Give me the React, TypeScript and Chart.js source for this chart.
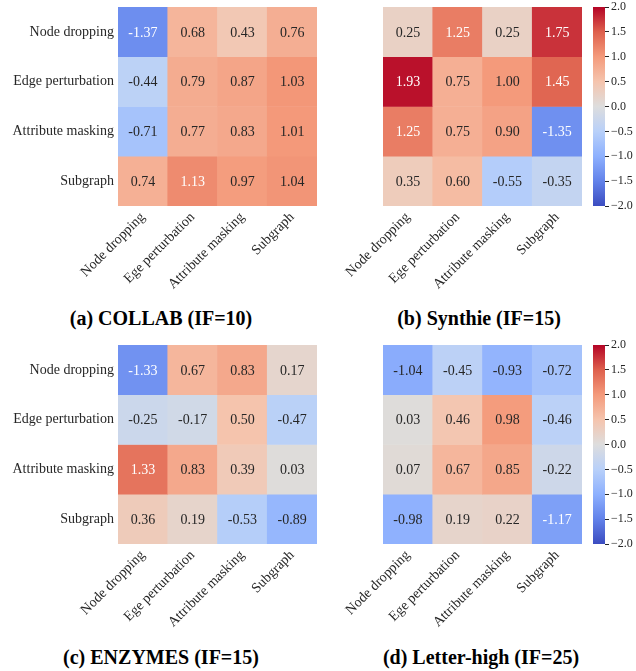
import React, { useEffect, useRef } from "react";
import { Chart, registerables } from "chart.js";

Chart.register(...registerables);

// ---------- data ----------
const ROW_LABELS = ["Node dropping", "Edge perturbation", "Attribute masking", "Subgraph"];
const COL_LABELS = ["Node dropping", "Ege perturbation", "Attribute masking", "Subgraph"];

const COLLAB = [
  [-1.37, 0.68, 0.43, 0.76],
  [-0.44, 0.79, 0.87, 1.03],
  [-0.71, 0.77, 0.83, 1.01],
  [0.74, 1.13, 0.97, 1.04],
];
const SYNTHIE = [
  [0.25, 1.25, 0.25, 1.75],
  [1.93, 0.75, 1.0, 1.45],
  [1.25, 0.75, 0.9, -1.35],
  [0.35, 0.6, -0.55, -0.35],
];
const ENZYMES = [
  [-1.33, 0.67, 0.83, 0.17],
  [-0.25, -0.17, 0.5, -0.47],
  [1.33, 0.83, 0.39, 0.03],
  [0.36, 0.19, -0.53, -0.89],
];
const LETTER_HIGH = [
  [-1.04, -0.45, -0.93, -0.72],
  [0.03, 0.46, 0.98, -0.46],
  [0.07, 0.67, 0.85, -0.22],
  [-0.98, 0.19, 0.22, -1.17],
];

const CAPTIONS = [
  "(a) COLLAB (IF=10)",
  "(b) Synthie (IF=15)",
  "(c) ENZYMES (IF=15)",
  "(d) Letter-high (IF=25)",
];

const VMIN = -2;
const VMAX = 2;
const COLORBAR_TICKS = [-2, -1.5, -1, -0.5, 0, 0.5, 1, 1.5, 2];

// ---------- colormap (coolwarm) ----------
const COOLWARM: [number, number, number][] = [
  [59, 76, 192],
  [98, 130, 234],
  [141, 176, 254],
  [184, 208, 249],
  [221, 221, 221],
  [245, 196, 173],
  [244, 154, 123],
  [222, 96, 77],
  [180, 4, 38],
];

function cmapT(t: number): [number, number, number] {
  const tt = Math.max(0, Math.min(1, t));
  const n = COOLWARM.length - 1;
  const f = tt * n;
  const i = Math.min(n - 1, Math.floor(f));
  const a = f - i;
  const c0 = COOLWARM[i];
  const c1 = COOLWARM[i + 1];
  return [0, 1, 2].map((k) => c0[k] + (c1[k] - c0[k]) * a) as [number, number, number];
}
function valueRGB(v: number) {
  return cmapT((v - VMIN) / (VMAX - VMIN));
}
function rgbCss(c: [number, number, number]) {
  return `rgb(${Math.round(c[0])},${Math.round(c[1])},${Math.round(c[2])})`;
}
function luminance(c: [number, number, number]) {
  const lin = c.map((x) => {
    const s = x / 255;
    return s <= 0.03928 ? s / 12.92 : Math.pow((s + 0.055) / 1.055, 2.4);
  });
  return 0.2126 * lin[0] + 0.7152 * lin[1] + 0.0722 * lin[2];
}

const TEXT = "#262626";
const SERIF = "'Liberation Serif', 'DejaVu Serif', serif";

// ---------- heatmap ----------
type HeatProps = {
  values: number[][];
  showY: boolean;
  left: number;
  top: number;
  width: number;
  height: number;
  yAxisWidth: number;
};

function Heatmap({ values, showY, left, top, width, height, yAxisWidth }: HeatProps) {
  const ref = useRef<HTMLCanvasElement>(null);
  useEffect(() => {
    const padTop = 7;
    const areaH = 199;
    const annot = {
      id: "annot",
      afterDatasetsDraw(chart: any) {
        const ctx = chart.ctx;
        ctx.save();
        ctx.font = `14px ${SERIF}`;
        ctx.textAlign = "center";
        ctx.textBaseline = "middle";
        values.forEach((row, r) => {
          const meta = chart.getDatasetMeta(r);
          meta.data.forEach((el: any, j: number) => {
            const p = el.getProps(["x", "y", "base"], true);
            const v = row[j];
            ctx.fillStyle = luminance(valueRGB(v)) > 0.408 ? TEXT : "#ffffff";
            ctx.fillText(v.toFixed(2), p.x, (p.y + p.base) / 2 + 1);
          });
        });
        ctx.restore();
      },
    };
    const chart = new Chart(ref.current as HTMLCanvasElement, {
      type: "bar",
      data: {
        labels: COL_LABELS,
        datasets: ROW_LABELS.map((name, r) => ({
          label: name,
          data: values[r].map(() => [r, r + 1]) as any,
          backgroundColor: values[r].map((v) => rgbCss(valueRGB(v))),
          borderWidth: 0,
          barPercentage: 1,
          categoryPercentage: 1,
          grouped: false,
        })),
      },
      options: {
        responsive: false,
        animation: false,
        devicePixelRatio: 1,
        layout: { padding: { top: padTop, left: 0, right: 0, bottom: 0 } },
        plugins: { legend: { display: false }, tooltip: { enabled: false } },
        scales: {
          x: {
            type: "category",
            grid: { display: false, drawTicks: false },
            border: { display: false },
            ticks: {
              minRotation: 45,
              maxRotation: 45,
              autoSkip: false,
              padding: 3,
              color: TEXT,
              font: { family: SERIF, size: 14 },
            },
            afterFit: (s: any) => {
              s.height = height - padTop - areaH;
              s.paddingLeft = 0;
              s.paddingRight = 0;
            },
          },
          y: {
            type: "linear",
            min: 0,
            max: 4,
            reverse: true,
            grid: { display: false, drawTicks: false },
            border: { display: false },
            afterBuildTicks: (s: any) => {
              s.ticks = ROW_LABELS.map((_, i) => ({ value: i + 0.5 }));
            },
            ticks: {
              display: showY,
              autoSkip: false,
              padding: 4,
              color: TEXT,
              font: { family: SERIF, size: 14 },
              callback: (v: any) => ROW_LABELS[Math.floor(Number(v))],
            },
            afterFit: (s: any) => {
              s.width = yAxisWidth;
              s.paddingTop = 0;
              s.paddingBottom = 0;
            },
          },
        },
      },
      plugins: [annot],
    });
    return () => chart.destroy();
  }, []);
  return (
    <canvas
      ref={ref}
      width={width}
      height={height}
      style={{ position: "absolute", left, top, width, height }}
    />
  );
}

// ---------- colorbar ----------
function Colorbar({ left, top }: { left: number; top: number }) {
  const ref = useRef<HTMLCanvasElement>(null);
  useEffect(() => {
    const chart = new Chart(ref.current as HTMLCanvasElement, {
      type: "bar",
      data: {
        labels: ["colorbar"],
        datasets: [
          {
            data: [[VMIN, VMAX]] as any,
            backgroundColor: (c: any) => {
              const ch = c.chart;
              const ys = ch.scales.y;
              if (!ys || !ch.chartArea) return "#ddd";
              const y0 = ys.getPixelForValue(VMIN);
              const y1 = ys.getPixelForValue(VMAX);
              const g = ch.ctx.createLinearGradient(0, y0, 0, y1);
              COOLWARM.forEach((col, i) => g.addColorStop(i / (COOLWARM.length - 1), rgbCss(col)));
              return g;
            },
            borderWidth: 0,
            barPercentage: 1,
            categoryPercentage: 1,
          },
        ],
      },
      options: {
        responsive: false,
        animation: false,
        devicePixelRatio: 1,
        layout: { padding: { top: 7, left: 33, right: 0, bottom: 9 } },
        plugins: { legend: { display: false }, tooltip: { enabled: false } },
        scales: {
          x: { display: false },
          y: {
            position: "right",
            min: VMIN,
            max: VMAX,
            afterBuildTicks: (s: any) => {
              s.ticks = COLORBAR_TICKS.map((v) => ({ value: v }));
            },
            grid: {
              display: true,
              drawOnChartArea: false,
              drawTicks: true,
              tickLength: 4,
              color: TEXT,
              lineWidth: 1,
            },
            border: { display: false },
            ticks: {
              padding: 2,
              color: TEXT,
              autoSkip: false,
              font: { family: SERIF, size: 12 },
              callback: (v: any) => Number(v).toFixed(1).replace("-", "\u2212"),
            },
            afterFit: (s: any) => {
              s.width = 31;
              s.paddingTop = 0;
              s.paddingBottom = 0;
            },
          },
        },
      },
    });
    return () => chart.destroy();
  }, []);
  return (
    <canvas
      ref={ref}
      width={76}
      height={215}
      style={{ position: "absolute", left, top, width: 76, height: 215 }}
    />
  );
}

function Caption({ text, cx, cy }: { text: string; cx: number; cy: number }) {
  return (
    <div
      style={{
        position: "absolute",
        left: cx - 159,
        width: 318,
        top: cy - 11,
        height: 22,
        lineHeight: "22px",
        textAlign: "center",
        font: `bold 20px ${SERIF}`,
        color: "#000",
        whiteSpace: "nowrap",
      }}
    >
      {text}
    </div>
  );
}

export default function App() {
  const BOT = 338;
  return (
    <div
      style={{
        position: "absolute",
        left: 0,
        top: 0,
        width: 636,
        height: 671,
        background: "#fff",
        overflow: "hidden",
      }}
    >
      <Heatmap values={COLLAB} showY={true} left={0} top={0} width={317} height={300} yAxisWidth={118} />
      <Heatmap values={SYNTHIE} showY={false} left={318} top={0} width={264} height={300} yAxisWidth={65} />
      <Colorbar left={560} top={0} />
      <Heatmap values={ENZYMES} showY={true} left={0} top={BOT} width={317} height={300} yAxisWidth={118} />
      <Heatmap values={LETTER_HIGH} showY={false} left={318} top={BOT} width={264} height={300} yAxisWidth={65} />
      <Colorbar left={560} top={BOT} />
      <Caption text={CAPTIONS[0]} cx={161} cy={318} />
      <Caption text={CAPTIONS[1]} cx={479} cy={318} />
      <Caption text={CAPTIONS[2]} cx={161} cy={657} />
      <Caption text={CAPTIONS[3]} cx={481} cy={657} />
    </div>
  );
}
